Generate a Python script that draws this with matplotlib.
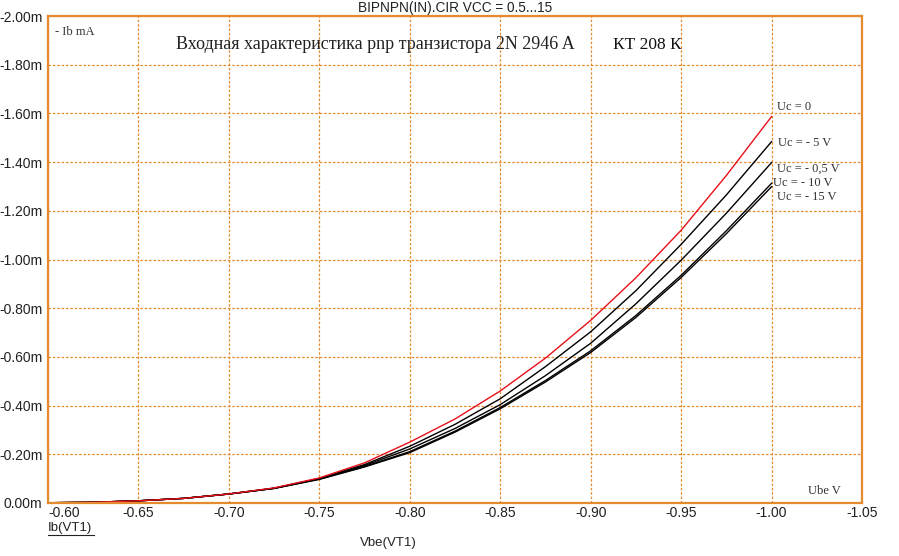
import numpy as np
import matplotlib
matplotlib.use("Agg")
import matplotlib.pyplot as plt
from matplotlib.ticker import FuncFormatter

# Vbe (V) and base current Ib (mA)
vbe = [-0.600, -0.625, -0.650, -0.675, -0.700, -0.725, -0.750, -0.775, -0.800,
       -0.825, -0.850, -0.875, -0.900, -0.925, -0.950, -0.975, -1.000]
ib_uc0 = [-0.001, -0.003, -0.009, -0.019, -0.037, -0.062, -0.103, -0.165, -0.250,
          -0.345, -0.460, -0.595, -0.750, -0.925, -1.120, -1.345, -1.587]
ib_uc5 = [-0.001, -0.003, -0.009, -0.019, -0.037, -0.061, -0.101, -0.158, -0.233,
          -0.323, -0.428, -0.560, -0.703, -0.872, -1.062, -1.265, -1.484]
ib_uc05 = [-0.001, -0.003, -0.009, -0.019, -0.037, -0.060, -0.100, -0.154, -0.222,
           -0.306, -0.404, -0.523, -0.656, -0.818, -0.997, -1.190, -1.398]
ib_uc10 = [-0.001, -0.003, -0.009, -0.019, -0.037, -0.060, -0.098, -0.150, -0.211,
           -0.295, -0.392, -0.503, -0.625, -0.770, -0.935, -1.118, -1.313]
ib_uc15 = [-0.001, -0.003, -0.009, -0.019, -0.037, -0.060, -0.097, -0.148, -0.207,
           -0.291, -0.387, -0.497, -0.618, -0.762, -0.926, -1.106, -1.299]

x_ticks = [-0.60, -0.65, -0.70, -0.75, -0.80, -0.85, -0.90, -0.95, -1.00, -1.05]
y_ticks = [0.0, -0.2, -0.4, -0.6, -0.8, -1.0, -1.2, -1.4, -1.6, -1.8, -2.0]

orange = '#E58A2E'
W, H = 899, 556

fig = plt.figure(figsize=(W / 100, H / 100), dpi=100)
ax = fig.add_axes([48 / W, (H - 503) / H, 814 / W, 487 / H])

for ib in [ib_uc15, ib_uc10, ib_uc05, ib_uc5]:
    ax.plot(vbe, ib, color='black', lw=1.0)
ax.plot(vbe, ib_uc0, color='#E8101A', lw=1.0)

ax.set_xlim(-0.60, -1.05)
ax.set_ylim(0.0, -2.0)
ax.set_xticks(x_ticks)
ax.set_yticks(y_ticks)
ax.xaxis.set_major_formatter(FuncFormatter(lambda v, p: f"{v:.2f}"))
ax.yaxis.set_major_formatter(FuncFormatter(lambda v, p: f"{v + 0.0:.2f}m".replace("-0.00", "0.00")))
ax.tick_params(length=0, labelsize=10, colors='#222222')
ax.tick_params(axis='x', pad=2)
ax.tick_params(axis='y', pad=4)
for lab in ax.get_xticklabels() + ax.get_yticklabels():
    lab.set_family('Liberation Sans')
# first x label starts at the left edge, next to "0.00m"
fig.canvas.draw()
ax.get_xticklabels()[0].set_horizontalalignment('left')
ax.grid(True, color=orange, ls=(0, (2, 1.5)), lw=0.9)
for s in ax.spines.values():
    s.set_color(orange)
    s.set_linewidth(1.6)

sans = 'Liberation Sans'
serif = 'Liberation Serif'
fig.text(455 / W, 1 - 8 / H, "BIPNPN(IN).CIR VCC = 0.5...15", family=sans,
         fontsize=9.8, ha='center', va='center', color='#222222')
fig.text(48 / W, 1 - 528 / H, "Ib(VT1)", family=sans, fontsize=9.5,
         ha='left', va='center', color='#222222')
fig.add_artist(plt.Line2D([48 / W, 94 / W], [1 - 535 / H, 1 - 535 / H],
                          color='#222222', lw=0.8))
fig.text(388 / W, 1 - 543 / H, "Vbe(VT1)", family=sans, fontsize=9.5,
         ha='center', va='center', color='#222222')

fig.text(176 / W, 1 - 45 / H, "Входная характеристика pnp транзистора 2N 2946 A",
         family=serif, fontsize=13, ha='left', va='center', color='#222222')
fig.text(613 / W, 1 - 45 / H, "КТ 208 К", family=serif, fontsize=12.5,
         ha='left', va='center', color='#111111')
fig.text(55 / W, 1 - 32 / H, "- Ib mA", family=serif, fontsize=9,
         ha='left', va='center', color='#333333')
fig.text(808 / W, 1 - 491 / H, "Ube V", family=serif, fontsize=9,
         ha='left', va='center', color='#333333')

uc_labels = ["Uc = 0", "Uc = - 5 V", "Uc = - 0,5 V", "Uc = - 10 V", "Uc = - 15 V"]
uc_pos = [(777, 107), (778, 143), (777, 169), (773, 183), (777, 197)]
for txt, (px, py) in zip(uc_labels, uc_pos):
    fig.text(px / W, 1 - py / H, txt, family=serif, fontsize=9,
             ha='left', va='center', color='#333333')

fig.savefig('out.png', dpi=100)
